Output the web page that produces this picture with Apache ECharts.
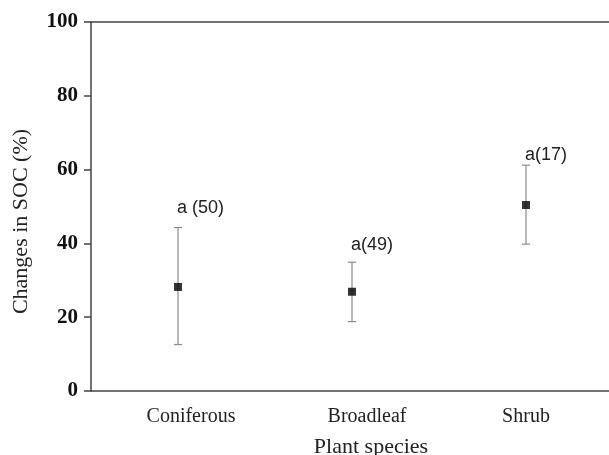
<!DOCTYPE html>
<html><head><meta charset="utf-8">
<script src="https://cdn.jsdelivr.net/npm/echarts@6/dist/echarts.min.js"></script>
<style>html,body{margin:0;padding:0;background:#fff}#c{width:609px;height:455px}</style>
</head><body><div id="c"></div>
<script>
const categories = ['Coniferous', 'Broadleaf', 'Shrub'];
const means = [28.2, 26.9, 50.4];
const lower = [12.6, 18.8, 39.8];
const upper = [44.3, 34.9, 61.2];
const groupLabels = ['a (50)', 'a(49)', 'a(17)'];
const labelValues = [49.6, 39.6, 64.0];
const yTicks = [0, 20, 40, 60, 80, 100];

const chart = echarts.init(document.getElementById('c'), null, {renderer: 'canvas'});
const serif = '"Liberation Serif", "Times New Roman", serif';
const errData = categories.map((c, i) => [i, lower[i], upper[i]]);
const lblData = categories.map((c, i) => [i, labelValues[i]]);
const labelShift = [26, 30, 0];
const catItems = categories.map((c, i) => ({value: c, textStyle: {padding: [0, 0, 0, labelShift[i]]}}));

chart.setOption({
  backgroundColor: '#fff',
  animation: false,
  grid: {left: 91, right: -4, top: 22, bottom: 64, show: false, containLabel: false, outerBoundsMode: 'none'},
  xAxis: [{
    type: 'category', data: catItems, position: 'bottom',
    axisLine: {lineStyle: {color: '#444', width: 1.5}},
    axisTick: {alignWithLabel: true, length: 6, lineStyle: {color: '#444', width: 1.5}},
    axisLabel: {fontFamily: serif, fontSize: 20, color: '#222', margin: 16},
    name: 'Plant species', nameLocation: 'middle', nameGap: 45,
    nameTextStyle: {fontFamily: serif, fontSize: 22, color: '#222', padding: [0, 0, 0, 38]}
  }, {
    type: 'category', data: categories, position: 'top',
    axisLine: {lineStyle: {color: '#444', width: 1.5}},
    axisTick: {show: false}, axisLabel: {show: false}
  }],
  yAxis: {
    type: 'value', min: 0, max: 100, interval: 20,
    axisLine: {show: true, lineStyle: {color: '#444', width: 1.5}},
    axisTick: {show: true, length: 7, lineStyle: {color: '#444', width: 1.5}},
    splitLine: {show: false},
    axisLabel: {fontFamily: serif, fontSize: 21, fontWeight: 'bold', color: '#111', margin: 13},
    name: 'Changes in SOC (%)', nameLocation: 'middle', nameGap: 59,
    nameTextStyle: {fontFamily: serif, fontSize: 22, color: '#222', padding: [0, 30, 0, 0]}
  },
  series: [{
    type: 'custom',
    data: errData,
    renderItem: function (params, api) {
      const x = api.coord([api.value(0), 0])[0];
      const lo = api.coord([api.value(0), api.value(1)])[1];
      const hi = api.coord([api.value(0), api.value(2)])[1];
      const cap = 4;
      const st = {stroke: '#8a8a8a', lineWidth: 1.2};
      return {type: 'group', children: [
        {type: 'line', shape: {x1: x, y1: lo, x2: x, y2: hi}, style: st},
        {type: 'line', shape: {x1: x - cap, y1: lo, x2: x + cap, y2: lo}, style: st},
        {type: 'line', shape: {x1: x - cap, y1: hi, x2: x + cap, y2: hi}, style: st}
      ]};
    },
    z: 2
  }, {
    type: 'scatter',
    data: categories.map((c, i) => [i, means[i]]),
    symbol: 'rect', symbolSize: 8,
    itemStyle: {color: '#000'}, z: 3
  }, {
    type: 'custom',
    data: lblData,
    renderItem: function (params, api) {
      const p = api.coord([api.value(0), api.value(1)]);
      return {type: 'text', x: p[0] - 1, y: p[1], style: {
        text: groupLabels[params.dataIndex], fill: '#222',
        font: '18px "Liberation Sans", Arial, sans-serif',
        textAlign: 'left', textVerticalAlign: 'middle'
      }};
    },
    z: 4
  }]
});
</script></body></html>
